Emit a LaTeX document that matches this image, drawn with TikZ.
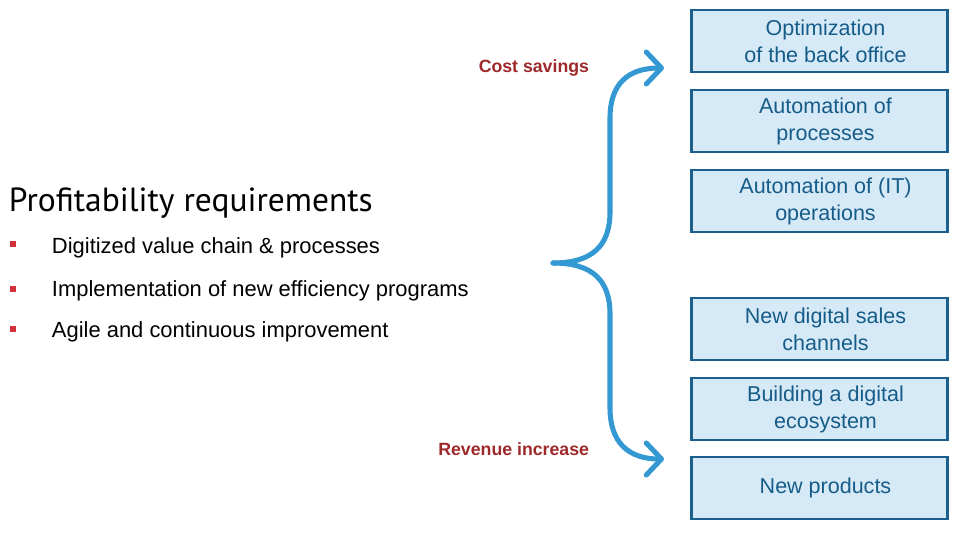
\documentclass[tikz,border=0pt]{standalone}
\usepackage{fontspec}
\setmainfont{Liberation Sans}
\newfontfamily\headfont{PT Sans}
\usetikzlibrary{positioning}
\usetikzlibrary{arrows.meta}
\definecolor{boxfill}{RGB}{214,233,247}
\definecolor{boxline}{RGB}{27,96,140}
\definecolor{boxtext}{RGB}{22,92,136}
\definecolor{bracecol}{RGB}{52,153,211}
\definecolor{labred}{RGB}{158,40,42}
\definecolor{bulred}{RGB}{210,48,58}
\tikzset{
  goalbox/.style={draw=boxline, fill=boxfill, line width=1.5pt, minimum width=6.4cm,
    minimum height=1.55cm, align=center, text=boxtext, inner sep=0pt,
    font=\fontsize{15.3}{19.3}\selectfont},
  bracearm/.style={draw=bracecol, line width=3.6pt, line cap=round,
    -{Straight Barb[length=0.38cm,width=0.8cm,line cap=round,round]}},
  sidelabel/.style={text=labred, font=\fontsize{12.6}{15}\selectfont\bfseries, anchor=east},
  bulletsq/.style={fill=bulred, minimum size=4.3pt, inner sep=0pt},
  bullettext/.style={anchor=west, font=\fontsize{15.6}{18}\selectfont}
}

\begin{document}
\begin{tikzpicture}[x=0.025cm, y=-0.025cm]
    \useasboundingbox (0,0) rectangle (960,534);

    \node[goalbox] at (819.5,41) (b1){\hspace{0.3cm}Optimization\\\hspace{0.3cm}of the back office};
    \node[goalbox, below=0.4cm of b1] (b2){\hspace{0.3cm}Automation of\\\hspace{0.3cm}processes};
    \node[goalbox, below=0.4cm of b2] (b3){\hspace{0.3cm}Automation of (IT)\\\hspace{0.3cm}operations};
    \node[goalbox, below=1.6cm of b3] (b4){\hspace{0.3cm}New digital sales\\\hspace{0.3cm}channels};
    \node[goalbox, below=0.39cm of b4] (b5){\hspace{0.3cm}Building a digital\\\hspace{0.3cm}ecosystem};
    \node[goalbox, below=0.36cm of b5] (b6){\hspace{0.3cm}New products};

    \coordinate (apex) at (553,263);
    \coordinate (cs) at (664,68);
    \coordinate (ri) at (664,459);

    \draw[bracearm] (apex) .. controls (592,263) and (610,246) .. (610,212)
      -- (610,118) .. controls (610,84) and (628,68) .. (cs);
    \draw[bracearm] (apex) .. controls (592,263) and (610,280) .. (610,314)
      -- (610,408) .. controls (610,442) and (628,459) .. (ri);

    \node[sidelabel] at (594,68) (lcs){Cost savings};
    \node[sidelabel] at (594,449) (lri){Revenue increase};

    \node[anchor=west, font=\headfont\fontsize{23.8}{28}\selectfont] at (4,203) (req){Profitability requirements};
    \node[bulletsq] at (13,244) (d1){};
    \node[bulletsq] at (13,289) (d2){};
    \node[bulletsq] at (13,329) (d3){};
    \node[bullettext] at ([xshift=0.85cm,yshift=-0.1cm]d1.center) (t1){Digitized value chain \& processes};
    \node[bullettext] at ([xshift=0.85cm,yshift=-0.05cm]d2.center) (t2){Implementation of new efficiency programs};
    \node[bullettext] at ([xshift=0.85cm,yshift=-0.08cm]d3.center) (t3){Agile and continuous improvement};
\end{tikzpicture}
\end{document}
